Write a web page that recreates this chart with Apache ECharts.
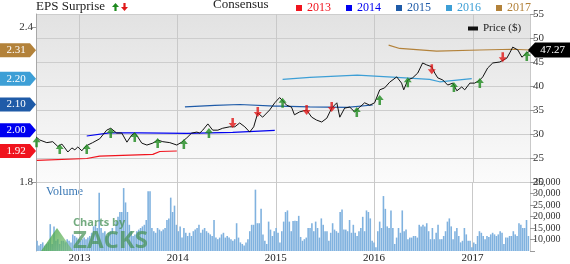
<!DOCTYPE html>
<html><head><meta charset="utf-8">
<script src="https://cdn.jsdelivr.net/npm/echarts@6/dist/echarts.min.js"></script>
<style>html,body{margin:0;padding:0;background:#fff}#c{width:570px;height:264px}</style>
</head><body><div id="c"></div>
<script>
// ---------- data ----------
const xMin = '2012-07-26';
const xMax = '2017-07-31';

const priceDates = ['2012-07-26','2012-08-09','2012-09-04','2012-09-26','2012-10-15','2012-10-30','2012-11-10','2012-11-21','2012-12-06','2012-12-17','2012-12-28',
'2013-01-12','2013-01-23','2013-02-03','2013-02-21','2013-03-19','2013-04-14','2013-04-29','2013-05-21','2013-06-09','2013-06-28','2013-07-16','2013-07-27','2013-08-07','2013-08-22','2013-09-10','2013-10-02','2013-10-20','2013-11-08','2013-12-04','2013-12-30',
'2014-01-17','2014-02-05','2014-02-23','2014-03-14','2014-03-25','2014-04-05','2014-04-24','2014-05-12','2014-05-31','2014-06-18','2014-07-14','2014-08-02','2014-08-20','2014-09-08','2014-09-26','2014-10-11','2014-10-26','2014-11-13','2014-12-09','2014-12-28',
'2015-01-15','2015-02-10','2015-02-28','2015-03-11','2015-03-30','2015-04-25','2015-05-14','2015-06-01','2015-06-20','2015-07-09','2015-07-27','2015-08-15','2015-08-26','2015-09-13','2015-10-02','2015-10-20','2015-11-08','2015-11-26','2015-12-15',
'2016-01-02','2016-01-21','2016-02-08','2016-02-27','2016-03-24','2016-04-11','2016-04-19','2016-05-04','2016-05-22','2016-06-10','2016-06-28','2016-07-13','2016-08-01','2016-08-12','2016-08-23','2016-09-11','2016-09-29','2016-10-18','2016-11-02','2016-11-20','2016-12-01','2016-12-20',
'2017-01-07','2017-01-26','2017-02-06','2017-02-24','2017-03-15','2017-04-10','2017-05-06','2017-05-17','2017-05-28','2017-06-16','2017-07-01','2017-07-19','2017-07-31'];
const priceValues = [29.4,28.75,28.2,28.4,27.4,27.9,27.1,26.25,27.1,26.7,27.3,
26.5,27.3,27.7,28.2,29.0,30.8,31.2,30.2,30.2,28.3,29.8,30.2,29.4,28.1,27.7,28.1,28.75,28.4,28.2,27.7,
28.3,29.2,30.2,30.4,30.2,30.8,32.1,30.8,30.8,31.2,31.5,31.5,32.3,31.5,30.4,31.5,34.4,33.5,35.0,36.5,
37.6,36.0,35.6,34.0,34.6,35.0,33.5,32.9,32.5,33.3,35.4,36.5,33.5,35.4,35.6,34.6,35.6,36.5,36.0,
36.5,39.2,39.6,40.8,41.9,40.6,39.2,41.25,41.7,42.7,44.8,44.4,44.0,42.7,41.7,41.25,40.2,40.6,39.0,39.8,39.2,40.6,
40.6,41.25,41.9,43.75,44.8,45.0,45.8,46.9,48.1,47.5,46.0,46.9,47.27];
const lastPrice = 47.27;

const beatDates = ['2012-07-28','2012-10-22','2013-01-30','2013-04-29','2013-07-27','2013-10-20','2014-01-25','2014-04-28','2015-01-26','2015-10-28','2016-01-21','2016-05-04','2016-10-22','2017-01-26','2017-07-19'];
const beatPrices = [28.3,26.9,26.9,30.2,29.4,28.1,27.9,30.2,36.5,34.6,37.1,40.8,39.8,40.6,46.25];
const missDates = ['2014-07-25','2014-10-26','2015-04-25','2015-07-27','2016-08-01','2017-04-21'];
const missPrices = [32.3,34.6,35.0,35.6,43.5,46.0];

const consensusYears = ['2013','2014','2015','2016','2017'];
const cons2013Dates = ['2012-07-29','2013-01-30','2013-03-19','2013-10-02','2013-10-28','2013-12-30'];
const cons2013Values = [1.884,1.891,1.90,1.907,1.918,1.92];
const cons2014Dates = ['2013-01-30','2013-04-24','2013-08-14','2014-02-05','2014-07-25','2014-12-28'];
const cons2014Values = [1.978,1.99,1.99,1.988,1.992,2.00];
const cons2015Dates = ['2014-01-29','2014-05-20','2014-08-20','2014-12-28','2015-01-15','2015-05-06','2015-09-21','2015-12-26'];
const cons2015Values = [2.091,2.097,2.10,2.094,2.094,2.091,2.089,2.098];
const cons2016Dates = ['2015-01-26','2015-05-07','2015-10-30','2016-03-24','2016-07-24','2016-08-30','2016-12-27'];
const cons2016Values = [2.197,2.205,2.214,2.205,2.197,2.188,2.20];
const cons2017Dates = ['2016-02-23','2016-04-04','2016-08-19','2017-01-26','2017-05-28','2017-07-31'];
const cons2017Values = [2.33,2.317,2.307,2.311,2.314,2.311];
const consensusLatest = [1.92,2.00,2.10,2.20,2.31];

const epsTickLabels = [1.8, 2.4];
const volumeStart = '2012-07-27';
const volumeValues = [
9440,7360,8060,8750,7360,8060,8750,16670,8060,15700,
9440,10140,8060,9440,9440,8750,10140,9440,8750,12220,
11530,10830,10140,9440,10140,10830,10140,10830,11530,12920,
15700,16390,15000,30280,15000,12920,13610,11530,12920,13610,
15000,12920,17780,19860,21950,21950,32360,26110,21950,16390,
13610,11530,12220,13610,14300,15000,15700,16390,18470,30970,
30970,15000,13610,12920,15000,14300,13610,14300,15000,18470,
19170,28200,21950,24720,16390,13610,15700,10830,15000,12920,
11530,12920,11530,13610,14300,15000,16390,12920,14300,15000,
13610,12920,12220,11530,18470,10830,10140,10830,12220,12920,
10830,11530,10830,10140,9440,10140,17080,10830,8750,8060,
7360,8750,10140,13610,16390,16390,31670,17080,17080,23330,
12220,9440,8060,17780,14300,11530,13610,15000,12920,8750,
13610,17780,21950,22640,17780,
13610,18060,18190,18060,20280,
11110,9440,10140,10830,15000,15000,17080,13610,17780,15000,
10830,19170,16390,13610,13610,9440,12920,17080,14300,13610,
12920,21950,23060,14300,14300,13610,18470,12920,16390,12920,
11530,13610,15000,19860,13610,22640,21950,19170,9440,8750,
6670,13610,17780,15000,28890,23330,15700,15000,22640,15000,
8060,10830,15000,12920,22640,13610,14300,10140,10830,10830,
11530,11530,10830,16390,15700,16390,15700,17080,13610,10140,
15000,10140,12920,16390,10140,10140,11530,13610,17780,19170,
15700,10140,13610,15000,11530,8750,9440,15000,12220,9440,
9440,6670,8750,8060,11530,13610,12920,11530,10140,11530,
11110,12220,12920,12220,11530,12220,13610,12920,8060,10830,
10830,11530,11530,13610,12220,11530,17080,16390,15000,15000,
18470,11530];

// ---------- build ----------
const FONT = 'Liberation Serif';
const DAY = 86400000;
const consColors = ['#f0141e','#0000f0','#1f5ba8','#3d9fd6','#b3823a'];
const consDates = [cons2013Dates,cons2014Dates,cons2015Dates,cons2016Dates,cons2017Dates];
const consVals = [cons2013Values,cons2014Values,cons2015Values,cons2016Values,cons2017Values];
const zip = (a,b) => a.map((d,i)=>[d,b[i]]);
const vStart = new Date(volumeStart + 'T00:00:00Z').getTime();
const volumeData = volumeValues.map((v,i)=>[vStart + i*7*DAY, v]);

const upArrow = 'path://M5,0 L10,6 L6.6,6 L6.6,12 L3.4,12 L3.4,6 L0,6 Z';
const downArrow = 'path://M3.4,0 L6.6,0 L6.6,6 L10,6 L5,12 L0,6 L3.4,6 Z';

const consSeries = consensusYears.map((yr,i)=>({
  name: yr, type:'line', xAxisIndex:0, yAxisIndex:1,
  data: zip(consDates[i], consVals[i]), showSymbol:false, symbol:'none',
  lineStyle:{color:consColors[i], width:1.2}, itemStyle:{color:consColors[i]},
  z: 3, animation:false,
  markPoint:{
    symbol:'path://M0,0 L30,0 L36,7 L30,14 L0,14 Z', symbolSize:[36,14], symbolKeepAspect:false,
    symbolOffset:[-18,0], silent:true, animation:false,
    itemStyle:{color:consColors[i]},
    label:{show:true, position:'inside', offset:[-2,0], color:'#fff', fontFamily:FONT, fontSize:11,
      formatter: () => consensusLatest[i].toFixed(2)},
    data:[{coord:[xMin, consensusLatest[i]]}]
  }
}));

const timeAxisBase = {
  type:'time', min:xMin, max:xMax,
  minInterval: 365*DAY, maxInterval: 366*DAY,
  axisLine:{show:false}, axisTick:{show:false},
  splitLine:{show:true, lineStyle:{color:'#c9c9c9', width:1}}
};

const option = {
  animation:false,
  backgroundColor:'#ffffff',
  textStyle:{fontFamily:FONT},
  grid:[
    {left:36, right:40, top:14, height:168, show:true, borderWidth:0,
     backgroundColor:{type:'linear',x:0,y:0,x2:0,y2:1,colorStops:[{offset:0,color:'#e2e2e2'},{offset:1,color:'#fbfbfb'}]}},
    {left:36, right:40, top:182, height:72, show:true, borderWidth:0, backgroundColor:'#ffffff'}
  ],
  xAxis:[
    Object.assign({gridIndex:0, axisLabel:{show:false}}, timeAxisBase),
    Object.assign({gridIndex:1, axisLabel:{show:true, formatter:'{yyyy}', color:'#222', fontFamily:FONT, fontSize:11, margin:2}}, timeAxisBase)
  ],
  yAxis:[
    {gridIndex:0, type:'value', position:'right', min:20, max:55, interval:5,
     axisLine:{show:false}, axisTick:{show:true, length:5, lineStyle:{color:'#999'}},
     axisLabel:{color:'#333', fontFamily:FONT, fontSize:11, margin:3},
     splitLine:{show:true, lineStyle:{color:'#cdcdcd'}}},
    {gridIndex:0, type:'value', position:'left', min:1.8, max:2.4504,
     axisLine:{show:true, lineStyle:{color:'#a8a8a8'}},
     axisTick:{show:true, length:4, customValues:epsTickLabels, lineStyle:{color:'#999'}},
     axisLabel:{color:'#333', fontFamily:FONT, fontSize:11, margin:3, customValues:epsTickLabels, formatter:v=>v.toFixed(1)},
     splitLine:{show:false}},
    {gridIndex:1, type:'value', position:'right', min:5000, max:35000, interval:5000,
     axisLine:{show:false}, axisTick:{show:true, length:5, lineStyle:{color:'#999'}},
     axisLabel:{color:'#333', fontFamily:FONT, fontSize:10, margin:3,
       formatter:v=> v<=5000 ? '' : v.toLocaleString('en-US')},
     splitLine:{show:false}},
    {gridIndex:1, type:'value', position:'left', min:5000, max:35000,
     axisLine:{show:true, lineStyle:{color:'#a8a8a8'}}, axisTick:{show:false}, axisLabel:{show:false}, splitLine:{show:false}}
  ],
  legend:[
    {left:291, top:-3, icon:'rect', itemWidth:6, itemHeight:6, itemGap:15,
     textStyle:{fontFamily:FONT, fontSize:12},
     data: consensusYears.map((y,i)=>({name:y, textStyle:{color:consColors[i]}})),
     selectedMode:false},
    {left:463, top:18, icon:'rect', itemWidth:10, itemHeight:4,
     textStyle:{fontFamily:FONT, fontSize:11, color:'#222'},
     data:[{name:'Price ($)'}], selectedMode:false}
  ],
  graphic:[
    {type:'text', left:36, top:0, style:{text:'EPS Surprise', fill:'#222', font:'13px "Liberation Serif"'}},
    {type:'polygon', shape:{points:[[115.5,3],[119,7],[116.6,7],[116.6,11],[114.4,11],[114.4,7],[112,7]]}, style:{fill:'#1e8a1e'}},
    {type:'polygon', shape:{points:[[123.4,3],[125.6,3],[125.6,7],[128,7],[124.5,11],[121,7],[123.4,7]]}, style:{fill:'#e01818'}},
    {type:'text', left:213, top:-2, style:{text:'Consensus', fill:'#222', font:'13px "Liberation Serif"'}},
    {type:'text', left:46, top:186, style:{text:'Volume', fill:'#3a78b5', font:'12px "Liberation Serif"'}},
    {type:'polygon', z:100, silent:true, shape:{points:[[41,251],[57,228],[73,251]]},
       style:{fill:{type:'linear',x:0,y:0,x2:1,y2:1,colorStops:[{offset:0,color:'rgba(60,160,60,0.85)'},{offset:1,color:'rgba(120,190,110,0.6)'}]}}},
    {type:'text', z:100, silent:true, x:73, y:217, style:{text:'Charts by', fill:'rgba(80,150,95,0.8)', font:'bold 11px "Open Sans"'}},
    {type:'text', z:100, silent:true, x:73, y:229, style:{text:'ZACKS', fill:'rgba(70,145,85,0.72)', font:'bold 24px "Open Sans"'}}
  ],
  series:[
    {name:'Volume', type:'bar', xAxisIndex:1, yAxisIndex:2, data:volumeData, barWidth:1.6,
     itemStyle:{color:'#80b2df'}, z:2, animation:false},
    {name:'Price ($)', type:'line', xAxisIndex:0, yAxisIndex:0, data:zip(priceDates, priceValues),
     showSymbol:false, symbol:'none', lineStyle:{color:'#111', width:1}, itemStyle:{color:'#111'}, z:4,
     markPoint:{
       symbol:'path://M0,7 L7,0 L43,0 L43,14 L7,14 Z', symbolSize:[43,15], symbolKeepAspect:false,
       symbolOffset:[19.5,-1], silent:true, animation:false, itemStyle:{color:'#000'},
       label:{show:true, position:'inside', offset:[3,0], color:'#fff', fontFamily:FONT, fontSize:11,
         formatter:()=>lastPrice.toFixed(2)},
       data:[{coord:[xMax, lastPrice]}]
     }},
    ...consSeries,
    {name:'Beat', type:'scatter', xAxisIndex:0, yAxisIndex:0, data:zip(beatDates, beatPrices),
     symbol:upArrow, symbolSize:[8,10], itemStyle:{color:'#1e8a1e'}, z:6, clip:false},
    {name:'Miss', type:'scatter', xAxisIndex:0, yAxisIndex:0, data:zip(missDates, missPrices),
     symbol:downArrow, symbolSize:[8,10], itemStyle:{color:'#e01818'}, z:6, clip:false}
  ]
};
const chart = echarts.init(document.getElementById('c'), null, {renderer:'canvas'});
chart.setOption(option);
</script></body></html>
